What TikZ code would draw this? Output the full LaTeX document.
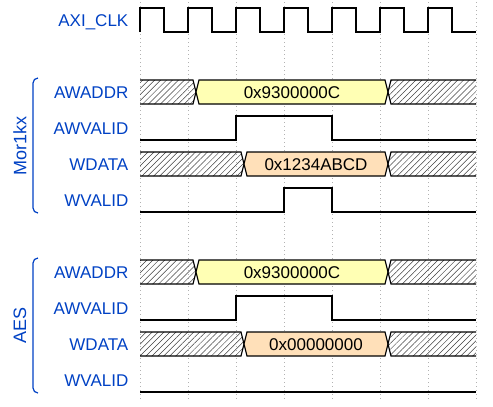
\documentclass[tikz,border=0pt]{standalone}
\usepackage{fontspec}
\setmainfont{Liberation Sans}
\usetikzlibrary{patterns.meta}

\definecolor{wblue}{HTML}{0041C4}
\definecolor{wyellow}{HTML}{FFFFB4}
\definecolor{worange}{HTML}{FFE0B9}

% bus lane: y centre, first change, second change, fill, value text, name
\newcommand{\buslane}[6]{%
  \fill[hatch] (140,#1-12) -- (#2-3,#1-12) -- (#2,#1) -- (#2-3,#1+12) -- (140,#1+12) -- cycle;
  \draw[wave] (140,#1-12) -- (#2-3,#1-12) -- (#2,#1) -- (#2-3,#1+12) -- (140,#1+12);
  \draw[wave, fill=#4] (#2+3,#1-12) -- (#3-3,#1-12) -- (#3,#1) -- (#3-3,#1+12)
    -- (#2+3,#1+12) -- (#2,#1) -- cycle;
  \node[value] (#6) at ({(#2+#3)/2},#1+6) {#5};
  \fill[hatch] (476,#1-12) -- (#3+3,#1-12) -- (#3,#1) -- (#3+3,#1+12) -- (476,#1+12) -- cycle;
  \draw[wave] (476,#1-12) -- (#3+3,#1-12) -- (#3,#1) -- (#3+3,#1+12) -- (476,#1+12);
}

\begin{document}
\begin{tikzpicture}[
    x=1pt, y=-1pt,
    wave/.style={draw=black, line width=1.2pt, line join=miter},
    hatch/.style={pattern={Lines[angle=45, distance=4.2pt, line width=0.5pt]},
                  pattern color=black!75},
    grid/.style={draw=black!30, line width=0.8pt, dash pattern=on 1pt off 3pt},
    signame/.style={anchor=base east, inner sep=0pt, text=wblue,
                    font=\fontsize{17}{20}\selectfont},
    value/.style={anchor=base, inner sep=0pt, font=\fontsize{17}{20}\selectfont},
    grpname/.style={rotate=90, inner sep=0pt, text=wblue,
                    font=\fontsize{18}{21}\selectfont},
    bracket/.style={draw=wblue, line width=1.2pt, rounded corners=5pt}
]
\useasboundingbox (0,0) rectangle (493,407);

% Grid
\foreach \t in {140,188,...,476}
  \draw[grid] (\t,2) -- (\t,400);

% Signal names
\node[signame] (clk) at (128.5,26) {AXI\_CLK};
\foreach \g/\y in {m/92, a/272} {
  \node[signame] (\g awaddr) at (128.5,\y+6) {AWADDR};
  \node[signame] (\g awvalid) at (128.5,\y+42) {AWVALID};
  \node[signame] (\g wdata) at (128.5,\y+78) {WDATA};
  \node[signame] (\g wvalid) at (128.5,\y+114) {WVALID};
}

% Groups
\draw[bracket] (38,78) -| (33,145.5) |- (38,213);
\node[grpname] (mor1kx) at (20,145.5) {Mor1kx};
\draw[bracket] (38,258) -| (33,325.5) |- (38,393);
\node[grpname] (aes) at (20,325.5) {AES};

% Clock
\draw[wave] (140,32)
  \foreach \t in {140,188,...,428} { -- (\t,32) -- (\t,8) -- (\t+24,8) -- (\t+24,32) }
  -- (476,32);

% Mor1kx
\buslane{92}{196}{388}{wyellow}{0x9300000C}{maddr}
\draw[wave] (140,140) -- (236,140) -- (236,116) -- (332,116) -- (332,140) -- (476,140);
\buslane{164}{244}{388}{worange}{0x1234ABCD}{mdata}
\draw[wave] (140,212) -- (284,212) -- (284,188) -- (332,188) -- (332,212) -- (476,212);

% AES
\buslane{272}{196}{388}{wyellow}{0x9300000C}{aaddr}
\draw[wave] (140,320) -- (236,320) -- (236,296) -- (332,296) -- (332,320) -- (476,320);
\buslane{344}{244}{388}{worange}{0x00000000}{adata}
\draw[wave] (140,392) -- (476,392);

\end{tikzpicture}
\end{document}
